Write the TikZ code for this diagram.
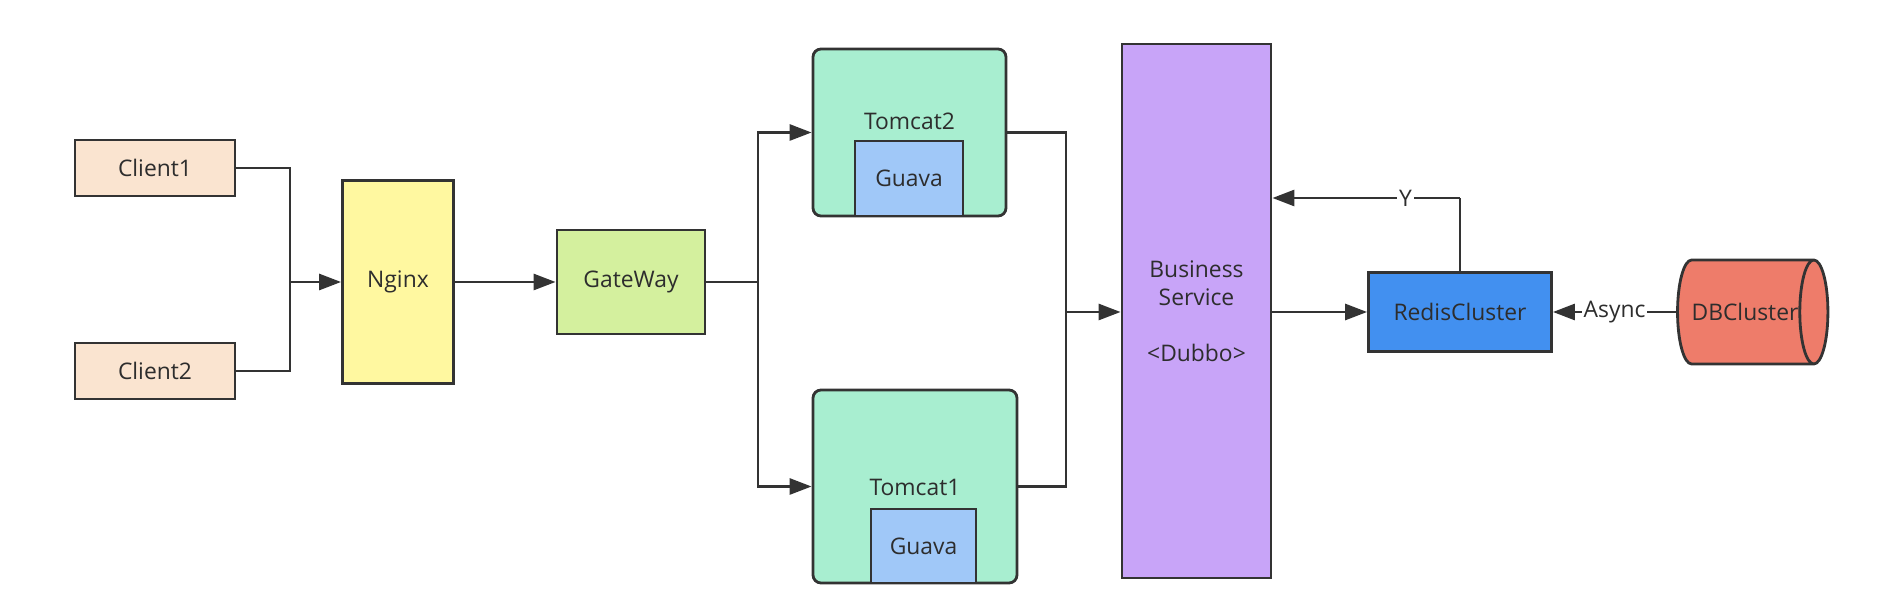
\documentclass[tikz,border=0pt]{standalone}
\usepackage{fontspec}
\setmainfont{Open Sans}
\usetikzlibrary{arrows.meta,shapes.geometric}
\definecolor{linegray}{RGB}{51,51,51}
\definecolor{textgray}{RGB}{45,45,45}
\definecolor{clientfill}{RGB}{250,228,208}
\definecolor{nginxfill}{RGB}{255,248,160}
\definecolor{gatefill}{RGB}{212,240,158}
\definecolor{tomcatfill}{RGB}{168,238,208}
\definecolor{guavafill}{RGB}{160,200,248}
\definecolor{servicefill}{RGB}{200,164,248}
\definecolor{redisfill}{RGB}{66,144,240}
\definecolor{dbfill}{RGB}{238,124,106}
\begin{document}
\begin{tikzpicture}[x=0.2mm,y=-0.2mm,
  box/.style={draw=linegray,line width=1.6pt,inner sep=0pt,align=center,
    text=textgray,font=\fontsize{13}{16}\selectfont},
  txt/.style={inner sep=1pt,text=textgray,font=\fontsize{13}{16}\selectfont},
  conn/.style={draw=linegray,line width=1.6pt},
  arr/.style={conn,-{Triangle[length=4.4mm,width=3.2mm]}}]
\useasboundingbox (0,0) rectangle (1878,616);

\node[box,fill=clientfill,minimum width=32mm,minimum height=11.2mm] (client1) at (155,168) {Client1};
\node[box,fill=clientfill,minimum width=32mm,minimum height=11.2mm] (client2) at (155,371) {Client2};
\node[box,fill=nginxfill,minimum width=22.2mm,minimum height=40.6mm] (nginx) at (398,282) {Nginx};
\node[box,fill=gatefill,minimum width=29.6mm,minimum height=20.8mm] (gateway) at (631,282) {GateWay};

\node[box,fill=tomcatfill,rounded corners=1.6mm,minimum width=38.6mm,minimum height=33.4mm] (tomcat2) at (909.5,132.5) {};
\node[txt] (tomcat2name) at (909.5,121) {Tomcat2};
\node[box,fill=guavafill,minimum width=21.6mm,minimum height=15mm] (guava2) at (909,178.5) {Guava};
\node[box,fill=tomcatfill,rounded corners=1.6mm,minimum width=40.8mm,minimum height=38.6mm] (tomcat1) at (915,486.5) {};
\node[txt] (tomcat1name) at (915,487) {Tomcat1};
\node[box,fill=guavafill,minimum width=21mm,minimum height=14.8mm] (guava1) at (923.5,546) {Guava};

\node[box,fill=servicefill,minimum width=29.8mm,minimum height=106.8mm] (service) at (1196.5,311) {Business\\Service\\[16pt]<Dubbo>};
\node[box,fill=redisfill,minimum width=36.6mm,minimum height=15.8mm] (redis) at (1460,312) {RedisCluster};
\node[box,fill=dbfill,cylinder,aspect=1.6,minimum height=30mm,minimum width=20.8mm] (db) at (1745,312) {DBCluster};

\coordinate (cj) at (290,282);
\draw[conn] (client1.east) -| (cj);
\draw[conn] (client2.east) -| (cj);
\draw[arr] (cj) -- (nginx.west);
\draw[arr] (nginx.east) -- (gateway.west);

\coordinate (gj) at (758,282);
\draw[conn] (gateway.east) -- (gj);
\draw[arr] (gj) |- (tomcat2.west);
\draw[arr] (gj) |- (tomcat1.west);

\coordinate (tj) at (1066,312);
\draw[conn] (tomcat2.east) -| (tj);
\draw[conn] (tomcat1.east) -| (tj);
\draw[arr] (tj) -- (service.west |- tj);

\draw[arr] (service.east |- redis) -- (redis.west);
\coordinate (ry) at (1460,198);
\draw[conn] (redis.north) -- (ry);
\draw[arr] (ry) -- node[txt,fill=white,pos=0.29] (ylabel) {Y} (service.east |- ry);
\draw[arr] (db.west) -- node[txt,fill=white,pos=0.5] (asynclabel) {Async} (redis.east);
\end{tikzpicture}
\end{document}
